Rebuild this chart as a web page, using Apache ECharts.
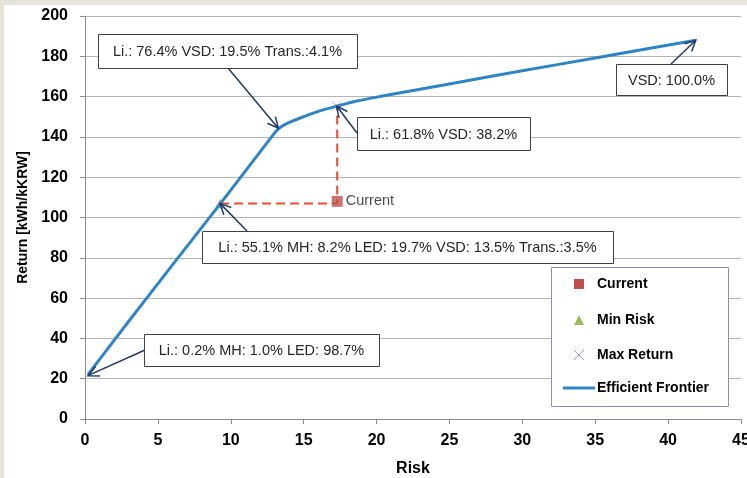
<!DOCTYPE html>
<html>
<head>
<meta charset="utf-8">
<script src="https://cdn.jsdelivr.net/npm/echarts@6/dist/echarts.min.js"></script>
<style>
  html, body { margin: 0; padding: 0; background: #e6e4da; }
  #chart { position: absolute; left: 4px; top: 5px; width: 743px; height: 473px; background: #fff; }
</style>
</head>
<body>
<div id="chart"></div>
<script>
  // efficient frontier
  const frontierRisk = [0.2, 3, 6, 9.3, 12.8, 13.3, 13.9, 14.8, 16.1, 17.3, 18.5, 20.2, 25, 30, 35, 41.9];
  const frontierReturn = [22, 48.5, 76.5, 107, 140, 144.2, 146.8, 149.5, 152.9, 155.3, 157.6, 160, 166.3, 172.8, 179.2, 188];

  const currentPoint = [17.3, 108];
  const minRiskPoint = [9.26, 107];
  const maxReturnPoint = [17.26, 155.3];
  const kinkPoint = [13.26, 144.3];
  const endPoint = [41.9, 188];
  const startPoint = [0.2, 21.5];

  const seriesNames = ['Current', 'Min Risk', 'Max Return', 'Efficient Frontier'];
  const xTicks = [0, 5, 10, 15, 20, 25, 30, 35, 40, 45];
  const yTicks = [0, 20, 40, 60, 80, 100, 120, 140, 160, 180, 200];

  const noteTexts = [
    'Li.: 76.4% VSD: 19.5% Trans.:4.1%',
    'Li.: 61.8% VSD: 38.2%',
    'VSD: 100.0%',
    'Li.: 55.1% MH: 8.2% LED: 19.7% VSD: 13.5% Trans.:3.5%',
    'Li.: 0.2% MH: 1.0% LED: 98.7%'
  ];
  const noteTargets = [kinkPoint, maxReturnPoint, endPoint, minRiskPoint, startPoint];

  // box layout in page pixels: [left, top, width, height, tailX, tailY]
  const noteLayout = [
    [98, 34, 259, 34, 228, 68],
    [357, 117, 173, 33, 357, 133],
    [616, 64, 111, 31, 671, 64],
    [202, 231, 411, 32, 247, 231],
    [144, 334, 235, 32, 145, 350]
  ];

  const OX = 4, OY = 5; // chart offset in page
  const lineBlue = '#2f84c6';
  const txtFont = '14.5px "Liberation Sans", Arial, sans-serif';
  const boldFont = 'bold 14px "Liberation Sans", Arial, sans-serif';

  const chart = echarts.init(document.getElementById('chart'), null, { renderer: 'canvas' });

  const frontier = frontierRisk.map((r, i) => [r, frontierReturn[i]]);
  const dashPath = [
    minRiskPoint,
    [currentPoint[0], minRiskPoint[1]],
    [currentPoint[0], maxReturnPoint[1]]
  ];

  const axisLabel = {
    color: '#000',
    fontFamily: '"Liberation Sans", Arial, sans-serif',
    fontWeight: 'bold',
    fontSize: 16
  };

  const options = {
    animation: false,
    grid: {
      left: 85 - OX,
      right: 747 - 741,
      top: 16 - OY,
      bottom: 478 - 419,
      containLabel: false,
      outerBoundsMode: 'none'
    },
    xAxis: {
      type: 'value',
      min: xTicks[0],
      max: xTicks[xTicks.length - 1],
      interval: 5,
      name: 'Risk',
      nameLocation: 'middle',
      nameGap: 42,
      nameTextStyle: axisLabel,
      axisLine: { show: true, lineStyle: { color: '#8c8c8c', width: 1 } },
      axisTick: { show: true, length: 5, lineStyle: { color: '#8c8c8c' } },
      axisLabel: Object.assign({ margin: 14 }, axisLabel),
      splitLine: { show: false }
    },
    yAxis: {
      type: 'value',
      min: yTicks[0],
      max: yTicks[yTicks.length - 1],
      interval: 20,
      name: 'Return [kWh/kKRW]',
      nameLocation: 'middle',
      nameGap: 53,
      nameTextStyle: Object.assign({}, axisLabel, { fontSize: 14 }),
      axisLine: { show: true, lineStyle: { color: '#8c8c8c', width: 1 } },
      axisTick: { show: true, length: 5, lineStyle: { color: '#8c8c8c' } },
      axisLabel: Object.assign({ margin: 17 }, axisLabel),
      splitLine: { show: true, lineStyle: { color: '#b4b4b4', width: 1 } }
    },
    series: [
      {
        name: seriesNames[3],
        type: 'line',
        data: frontier,
        smooth: 0.15,
        showSymbol: false,
        lineStyle: { color: lineBlue, width: 3 },
        z: 3
      },
      {
        name: 'dash',
        type: 'line',
        data: dashPath,
        showSymbol: false,
        lineStyle: { color: '#f24a2e', width: 2, type: [9, 5] },
        z: 2
      },
      {
        name: seriesNames[0],
        type: 'scatter',
        data: [currentPoint],
        symbol: 'rect',
        symbolSize: 11,
        itemStyle: { color: '#c0504d' },
        label: {
          show: true,
          position: 'right',
          distance: 3,
          formatter: 'Current',
          color: '#1a1a1a',
          fontFamily: '"Liberation Sans", Arial, sans-serif',
          fontSize: 14.5
        },
        z: 4
      },
      {
        name: seriesNames[1],
        type: 'scatter',
        data: [minRiskPoint],
        symbol: 'triangle',
        symbolSize: 10,
        itemStyle: { color: '#9bbb59' },
        z: 2
      },
      {
        name: seriesNames[2],
        type: 'scatter',
        data: [maxReturnPoint],
        symbol: 'path://M0,0L10,10M10,0L0,10',
        symbolSize: 10,
        itemStyle: { color: 'transparent', borderColor: '#9c94d8', borderWidth: 1 },
        z: 4
      }
    ]
  };
  chart.setOption(options);

  // annotation boxes and arrows, heads pinned to data points
  function arrow(x1, y1, x2, y2) {
    const ang = Math.atan2(y2 - y1, x2 - x1);
    const len = 12, spread = 0.45;
    const a1 = [x2 - len * Math.cos(ang - spread), y2 - len * Math.sin(ang - spread)];
    const a2 = [x2 - len * Math.cos(ang + spread), y2 - len * Math.sin(ang + spread)];
    const st = { stroke: '#1f3a68', lineWidth: 1.5 };
    return [
      { type: 'line', z: 20, shape: { x1: x1, y1: y1, x2: x2, y2: y2 }, style: st },
      { type: 'polyline', z: 20, shape: { points: [a1, [x2, y2], a2] }, style: Object.assign({ fill: null }, st) }
    ];
  }

  const graphics = [];
  noteTexts.forEach((t, i) => {
    const [l, tp, w, h, tx, ty] = noteLayout[i];
    const head = chart.convertToPixel({ gridIndex: 0 }, noteTargets[i]);
    graphics.push(...arrow(tx - OX, ty - OY, head[0], head[1]));
    graphics.push({
      type: 'rect', z: 21,
      shape: { x: l - OX + 0.5, y: tp - OY + 0.5, width: w, height: h },
      style: { fill: '#fff', stroke: '#404040', lineWidth: 1 }
    });
    graphics.push({
      type: 'text', z: 22,
      style: {
        text: t, x: l - OX + w / 2, y: tp - OY + h / 2 + 1,
        align: 'center', verticalAlign: 'middle',
        font: txtFont, fill: '#262626'
      }
    });
  });

  // legend box
  const lgX = 551 - OX, lgY = 267 - OY;
  graphics.push({
    type: 'rect', z: 21,
    shape: { x: lgX + 0.5, y: lgY + 0.5, width: 177, height: 139 },
    style: { fill: '#fff', stroke: '#8e8cc6', lineWidth: 1 }
  });
  const rowY = [284, 320, 355, 388].map(v => v - OY);
  const ic = 579 - OX;
  graphics.push({ type: 'rect', z: 22, shape: { x: ic - 5, y: rowY[0] - 5, width: 10, height: 10 }, style: { fill: '#c0504d' } });
  graphics.push({ type: 'polygon', z: 22, shape: { points: [[ic, rowY[1] - 5], [ic + 5, rowY[1] + 5], [ic - 5, rowY[1] + 5]] }, style: { fill: '#9bbb59' } });
  graphics.push({ type: 'polyline', z: 22, shape: { points: [[ic - 5, rowY[2] - 5], [ic + 5, rowY[2] + 5]] }, style: { stroke: '#9c94d8', lineWidth: 1 } });
  graphics.push({ type: 'polyline', z: 22, shape: { points: [[ic + 5, rowY[2] - 5], [ic - 5, rowY[2] + 5]] }, style: { stroke: '#9c94d8', lineWidth: 1 } });
  graphics.push({ type: 'line', z: 22, shape: { x1: 563 - OX, y1: rowY[3], x2: 595 - OX, y2: rowY[3] }, style: { stroke: lineBlue, lineWidth: 3 } });
  seriesNames.forEach((n, i) => {
    graphics.push({
      type: 'text', z: 22,
      style: { text: n, x: 597 - OX, y: rowY[i], verticalAlign: 'middle', font: boldFont, fill: '#000' }
    });
  });

  chart.setOption({ graphic: graphics });
  window.addEventListener('resize', () => chart.resize());
</script>
</body>
</html>
